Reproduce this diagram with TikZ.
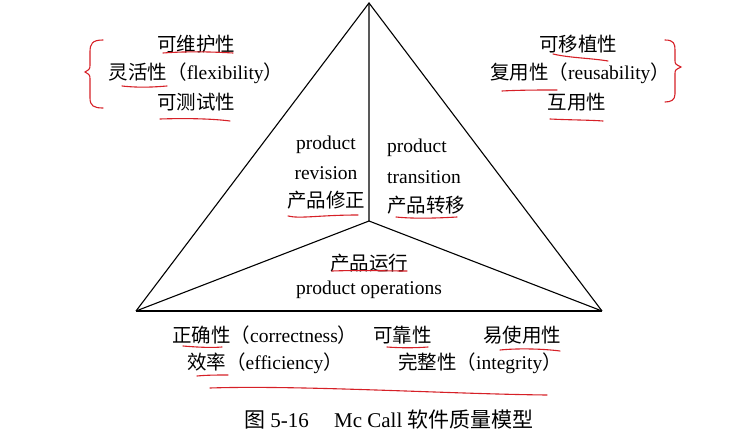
\documentclass[tikz,border=0pt]{standalone}
\usepackage{fontspec}
\setmainfont{Liberation Serif}
\newfontfamily\cjk{Noto Sans CJK SC}
\newcommand{\zh}[1]{{\cjk #1}}
\definecolor{penred}{RGB}{214,32,39}

\begin{document}
\begin{tikzpicture}[x=1pt,y=-1pt,
  txt/.style={font=\fontsize{19.5}{23}\selectfont,inner sep=0pt},
  figcap/.style={font=\fontsize{21}{25}\selectfont,inner sep=0pt},
  side/.style={line width=1.1pt},
  pen/.style={penred,line width=1.1pt,line cap=round}]
  \useasboundingbox (0,0) rectangle (744,441);
  % triangle
  \coordinate (top) at (369,3);
  \coordinate (bl) at (136,311);
  \coordinate (br) at (602,311);
  \coordinate (mid) at (369,221);
  \draw[side] (bl) -- (top) -- (br);
  \draw[line width=2.2pt] (bl) -- (br);
  \draw[side] (top) -- (mid) (bl) -- (mid) -- (br);
  % top left
  \node[txt] (kwh) at (196,44) {\zh{可维护性}};
  \node[txt] (lhx) at (196,73) {\zh{灵活性（}flexibility\zh{）}};
  \node[txt] (kcs) at (196,102) {\zh{可测试性}};
  % top right
  \node[txt] (kyz) at (578,44) {\zh{可移植性}};
  \node[txt] (fyx) at (580,73) {\zh{复用性（}reusability\zh{）}};
  \node[txt] (hyx) at (577,102) {\zh{互用性}};
  % inside
  \node[txt] (rv1) at (326,145) {product};
  \node[txt] (rv2) at (326,173) {revision};
  \node[txt] (rv3) at (326,200) {\zh{产品修正}};
  \node[txt,anchor=west] (tr1) at (387,148) {product};
  \node[txt,anchor=west] (tr2) at (387,177) {transition};
  \node[txt,anchor=west] (tr3) at (387,205) {\zh{产品转移}};
  \node[txt] (op1) at (369,263) {\zh{产品运行}};
  \node[txt] (op2) at (369,290) {product operations};
  % bottom
  \node[txt,anchor=west] (zqx) at (172,335) {\zh{正确性（}correctness\zh{）}};
  \node[txt,anchor=west] (kkx) at (373,335) {\zh{可靠性}};
  \node[txt,anchor=west] (ysy) at (483,335) {\zh{易使用性}};
  \node[txt,anchor=west] (xl) at (187,363) {\zh{效率（}efficiency\zh{）}};
  \node[txt,anchor=west] (wzx) at (398,363) {\zh{完整性（}integrity\zh{）}};
  \node[figcap,anchor=west] (fig) at (244,420) {\zh{图} 5-16\hspace{1.2em}Mc Call \zh{软件质量模型}};
  % red marks
  \draw[pen] (103,40) .. controls (92,40) and (90,44) .. (90,52) -- (90,64)
    .. controls (90,69) .. (85,72) .. controls (90,75) .. (90,80) -- (90,98)
    .. controls (90,106) and (94,108) .. (103,108);
  \draw[pen] (665,40) .. controls (674,40) and (675,44) .. (675,50) -- (675,60)
    .. controls (675,64) .. (681,67) .. controls (675,70) .. (675,74) -- (675,94)
    .. controls (675,100) and (671,102) .. (665,102);
  \draw[pen] (163,53) .. controls (190,51) and (215,52) .. (233,53);
  \draw[pen] (122,86) .. controls (140,88) and (155,87) .. (167,86);
  \draw[pen] (160,119) .. controls (190,118) and (215,119) .. (230,121);
  \draw[pen] (553,54) .. controls (570,58) and (590,58) .. (608,61);
  \draw[pen] (502,91) .. controls (520,90) and (540,90) .. (557,90);
  \draw[pen] (550,119) .. controls (570,120) and (590,120) .. (603,121);
  \draw[pen] (288,216) .. controls (300,219) and (320,215) .. (358,215);
  \draw[pen] (396,217) .. controls (415,219) and (440,218) .. (457,217);
  \draw[pen] (332,271) .. controls (360,270) and (385,271) .. (407,271);
  \draw[pen] (183,346) .. controls (195,347) and (210,348) .. (222,347);
  \draw[pen] (387,347) .. controls (400,348) and (415,348) .. (428,347);
  \draw[pen] (500,350) .. controls (520,348) and (545,349) .. (560,351);
  \draw[pen] (197,376) .. controls (207,375) and (218,375) .. (228,375);
  \draw[pen] (210,388) .. controls (300,385) and (450,394) .. (547,395);
\end{tikzpicture}
\end{document}
